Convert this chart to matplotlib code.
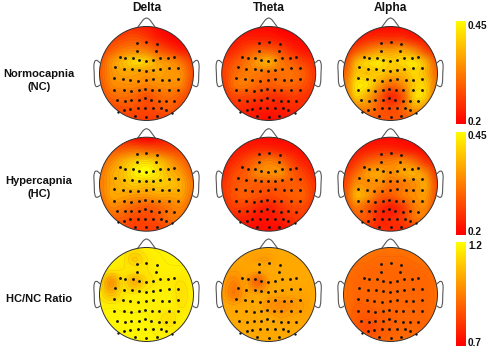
import numpy as np
import matplotlib
matplotlib.use("Agg")
import matplotlib.pyplot as plt
from matplotlib.patches import Circle, PathPatch
from matplotlib.path import Path

plt.rcParams['font.family'] = ['Liberation Sans', 'DejaVu Sans']

bands = ["Delta", "Theta", "Alpha"]
conditions = ["Normocapnia\n(NC)", "Hypercapnia\n(HC)", "HC/NC Ratio"]
cbar_ticks = [(0.2, 0.45, "0.2", "0.45"), (0.2, 0.45, "0.2", "0.45"), (0.7, 1.2, "0.7", "1.2")]

# electrode positions in head radii
elec_x = np.array([-.21,.00,.23, -.20,.21,
    -.57,-.45,-.29,-.16,-.01,.13,.28,.45,.58,
    -.66,-.48,-.30,-.17,-.02,.13,.28,.47,.66,
    -.69,-.51,-.35,-.19,-.02,.13,.32,.47,.67,
    -.69,-.48,-.32,-.17,-.03,.11,.27,.47,.66,
    -.63,-.46,-.32,-.16,-.03,.10,.27,.42,.58,
    -.47,-.36,-.18,-.03,.13,.31,.42,
    -.24,.00,.22])
elec_y = np.array([.64,.67,.63, .48,.48,
    .36,.32,.32,.29,.26,.28,.32,.33,.35,
    .14,.10,.09,.07,.06,.07,.09,.11,.11,
    -.10,-.12,-.14,-.15,-.13,-.11,-.13,-.13,-.12,
    -.35,-.36,-.37,-.35,-.34,-.35,-.35,-.35,-.35,
    -.57,-.58,-.56,-.57,-.53,-.56,-.59,-.58,-.59,
    -.78,-.75,-.73,-.73,-.74,-.74,-.78,
    -.90,-.92,-.90])
rim_x = [-.60, .55]
rim_y = [-.81, -.83]

# scalp values on a 9x9 grid, top row is the front of the head
delta_nc = [[.23,.23,.24,.24,.23,.21,.20,.20,.20],
            [.25,.26,.27,.28,.26,.23,.21,.20,.20],
            [.26,.29,.32,.33,.32,.29,.26,.23,.22],
            [.28,.34,.38,.41,.40,.36,.34,.31,.26],
            [.29,.34,.36,.36,.35,.36,.35,.34,.28],
            [.28,.33,.34,.34,.33,.34,.34,.33,.27],
            [.27,.30,.31,.30,.28,.30,.31,.29,.26],
            [.25,.27,.28,.28,.27,.28,.29,.27,.25],
            [.24,.25,.26,.26,.26,.26,.26,.25,.24]]
theta_nc = [[.21,.21,.21,.21,.21,.20,.20,.20,.20],
            [.22,.22,.23,.23,.23,.22,.21,.21,.21],
            [.23,.24,.27,.29,.29,.27,.24,.22,.22],
            [.25,.28,.31,.35,.37,.32,.29,.26,.24],
            [.26,.30,.32,.32,.31,.31,.31,.29,.25],
            [.25,.31,.32,.30,.29,.30,.30,.28,.25],
            [.24,.27,.27,.26,.25,.25,.26,.25,.24],
            [.23,.24,.24,.23,.23,.23,.24,.24,.23],
            [.22,.22,.22,.22,.21,.22,.22,.22,.22]]
alpha_nc = [[.21,.21,.21,.21,.21,.21,.21,.21,.21],
            [.22,.22,.24,.25,.25,.25,.23,.22,.22],
            [.23,.28,.32,.35,.35,.36,.33,.27,.23],
            [.27,.37,.41,.42,.40,.41,.42,.37,.28],
            [.30,.39,.39,.40,.38,.38,.41,.38,.30],
            [.32,.42,.42,.36,.31,.34,.40,.40,.31],
            [.30,.40,.37,.30,.24,.29,.41,.40,.29],
            [.26,.32,.33,.29,.27,.30,.36,.34,.26],
            [.24,.26,.28,.28,.28,.28,.29,.26,.24]]
delta_hc = [[.23,.23,.23,.21,.20,.21,.23,.23,.23],
            [.27,.28,.29,.30,.29,.28,.27,.26,.26],
            [.29,.33,.37,.40,.41,.39,.35,.31,.28],
            [.31,.36,.39,.43,.45,.42,.38,.35,.30],
            [.32,.36,.38,.40,.39,.40,.39,.37,.32],
            [.31,.36,.36,.35,.35,.36,.36,.36,.31],
            [.28,.33,.32,.30,.29,.30,.32,.33,.29],
            [.26,.29,.29,.27,.27,.28,.31,.31,.27],
            [.25,.26,.26,.26,.26,.26,.27,.27,.26]]
theta_hc = [[.21,.21,.21,.21,.21,.21,.21,.21,.21],
            [.21,.22,.23,.24,.24,.23,.22,.21,.21],
            [.22,.24,.27,.30,.32,.30,.26,.23,.22],
            [.23,.27,.29,.33,.34,.34,.29,.26,.23],
            [.25,.28,.29,.29,.29,.29,.29,.28,.25],
            [.25,.28,.29,.28,.27,.28,.29,.29,.25],
            [.24,.26,.26,.24,.23,.25,.27,.27,.24],
            [.22,.23,.23,.22,.22,.23,.25,.25,.23],
            [.21,.21,.21,.21,.21,.21,.22,.22,.21]]
alpha_hc = [[.21,.21,.21,.21,.21,.21,.21,.21,.21],
            [.21,.22,.23,.24,.24,.23,.22,.21,.21],
            [.22,.25,.29,.31,.32,.33,.30,.25,.22],
            [.25,.30,.35,.36,.34,.36,.37,.33,.25],
            [.27,.34,.34,.34,.31,.32,.34,.36,.27],
            [.28,.37,.35,.30,.29,.32,.34,.35,.27],
            [.26,.32,.29,.25,.23,.26,.32,.33,.26],
            [.23,.28,.28,.24,.24,.26,.31,.31,.25],
            [.21,.23,.24,.24,.24,.24,.25,.25,.23]]
delta_ratio = [[1.17,1.17,1.16,1.16,1.17,1.18,1.18,1.18,1.18],
               [1.17,1.17,1.16,1.10,1.15,1.17,1.18,1.18,1.18],
               [1.16,1.15,1.15,1.15,1.15,1.17,1.17,1.17,1.17],
               [1.14,1.00,1.13,1.05,1.13,1.16,1.16,1.15,1.17],
               [1.15,1.07,1.15,1.16,1.17,1.17,1.17,1.14,1.17],
               [1.17,1.17,1.17,1.17,1.17,1.17,1.17,1.15,1.17],
               [1.18,1.18,1.18,1.18,1.18,1.16,1.14,1.17,1.17],
               [1.18,1.18,1.18,1.18,1.18,1.17,1.16,1.17,1.18],
               [1.18,1.18,1.18,1.18,1.18,1.18,1.18,1.18,1.18]]
theta_ratio = [[1.03,1.03,1.03,1.03,1.03,1.03,1.03,1.03,1.03],
               [1.03,1.03,1.02,1.01,1.01,1.03,1.03,1.03,1.03],
               [1.02,1.01,1.02,1.02,1.03,1.03,1.03,1.03,1.03],
               [1.01,0.96,1.01,0.90,1.01,1.03,1.03,1.03,1.03],
               [1.01,0.94,1.01,1.02,1.02,1.02,1.02,1.02,1.03],
               [1.03,1.02,1.03,1.03,0.99,0.97,0.99,1.01,1.03],
               [1.03,1.03,1.03,1.03,1.03,1.01,1.02,1.02,1.03],
               [1.03,1.03,1.03,1.03,1.03,1.03,1.03,1.03,1.03],
               [1.03,1.03,1.03,1.03,1.03,1.03,1.03,1.03,1.03]]
alpha_ratio = [[.93,.93,.93,.93,.93,.93,.93,.93,.93],
               [.93,.92,.92,.91,.91,.91,.92,.93,.93],
               [.92,.91,.90,.90,.90,.90,.90,.91,.92],
               [.92,.90,.90,.90,.90,.90,.90,.90,.92],
               [.92,.90,.90,.90,.90,.90,.90,.90,.92],
               [.92,.89,.89,.90,.90,.90,.90,.90,.92],
               [.91,.88,.87,.88,.89,.90,.90,.90,.92],
               [.91,.87,.85,.87,.89,.90,.90,.90,.92],
               [.91,.89,.88,.89,.90,.91,.91,.91,.92]]

panels = [[delta_nc, theta_nc, alpha_nc],
          [delta_hc, theta_hc, alpha_hc],
          [delta_ratio, theta_ratio, alpha_ratio]]

W, H = 489, 349
fig = plt.figure(figsize=(W/100, H/100), dpi=100, facecolor='white')


def px_axes(x0, y0, x1, y1):
    return fig.add_axes([x0/W, 1-y1/H, (x1-x0)/W, (y1-y0)/H])


def smooth(values, factor=20):
    """Catmull-Rom smoothing of the scalp grid along both axes."""
    a = np.asarray(values, float)

    def along(arr):
        n = arr.shape[0]
        pos = np.linspace(0, n-1, (n-1)*factor+1)
        i = np.clip(np.floor(pos).astype(int), 0, n-2)
        t = (pos-i)[:, None]
        p0 = arr[np.clip(i-1, 0, n-1)]
        p1 = arr[i]
        p2 = arr[i+1]
        p3 = arr[np.clip(i+2, 0, n-1)]
        return 0.5*(2*p1+(p2-p0)*t+(2*p0-5*p1+4*p2-p3)*t**2+(3*p1-p0-3*p2+p3)*t**3)
    return along(along(a).T).T


centers_x = [146.5, 268.7, 390.5]
centers_y = [73.5, 184.2, 294.5]
R = 47.0
LIM = 1.3
cmap = plt.get_cmap('autumn')
edge = '#585858'

for r, (row, cy) in enumerate(zip(panels, centers_y)):
    vmin, vmax, lo, hi = cbar_ticks[r]
    for c, (vals, cx) in enumerate(zip(row, centers_x)):
        ax = px_axes(cx-LIM*R, cy-LIM*R, cx+LIM*R, cy+LIM*R)
        ax.set_xlim(-LIM, LIM); ax.set_ylim(-LIM, LIM)
        ax.axis('off')
        field = smooth(vals)
        gx = np.linspace(-1, 1, field.shape[1])
        gy = np.linspace(1, -1, field.shape[0])
        im = ax.imshow(field, extent=(-1, 1, -1, 1), origin='upper', cmap=cmap,
                       vmin=vmin, vmax=vmax, interpolation='bilinear',
                       aspect='auto', zorder=1)
        clip = Circle((0, 0), 1.0, transform=ax.transData)
        im.set_clip_path(clip)
        cs = ax.contour(gx, gy, field, levels=np.linspace(vmin, vmax, 22), colors='#803000',
                        linewidths=0.3, alpha=0.18, zorder=2)
        cs.set_clip_path(clip)
        ax.add_patch(Circle((0, 0), 1.0, fill=False, ec='#303030', lw=0.7, zorder=3))
        # nose
        nose = Path([(-.19, .98), (-.08, 1.13), (-.04, 1.18), (0, 1.18), (.04, 1.18), (.08, 1.13), (.19, .98)],
                    [Path.MOVETO, Path.LINETO, Path.CURVE3, Path.CURVE3, Path.CURVE3, Path.CURVE3, Path.LINETO])
        ax.add_patch(PathPatch(nose, fill=False, ec=edge, lw=0.8, zorder=2))
        # ears
        for s in (-1, 1):
            ear = Path([(s*.995, .22), (s*1.02, .28), (s*1.07, .28), (s*1.12, .28), (s*1.12, .14),
                        (s*1.11, -.02), (s*1.11, -.10),
                        (s*1.11, -.28), (s*1.06, -.28), (s*1.02, -.28), (s*.985, -.24)],
                       [Path.MOVETO, Path.CURVE3, Path.CURVE3, Path.CURVE3, Path.CURVE3,
                        Path.CURVE3, Path.CURVE3,
                        Path.CURVE3, Path.CURVE3, Path.CURVE3, Path.CURVE3])
            ax.add_patch(PathPatch(ear, fill=False, ec=edge, lw=0.8, zorder=2))
        ax.scatter(elec_x, elec_y, s=4.2, c='#151515', lw=0, zorder=4)
        ax.scatter(rim_x, rim_y, s=3.0, c='#151515', lw=0, zorder=4)

# column titles
for name, cx in zip(bands, centers_x):
    fig.text(cx/W, 1-8/H, name, ha='center', va='center', fontsize=8.6, fontweight='bold', color='#111111')

# row labels
for name, y in zip(conditions, [80.5, 187.5, 299]):
    fig.text(39/W, 1-y/H, name, ha='center', va='center', fontsize=8.0, fontweight='bold',
             color='#111111', linespacing=1.35)

# colour bars
bars = [(21, 124), (132, 235), (242, 346)]
gradient = np.linspace(1, 0, 128).reshape(-1, 1)
tick_y = [(122, 26), (232, 136), (343, 246)]
for (y0, y1), (vmin, vmax, lo, hi), (ylo, yhi) in zip(bars, cbar_ticks, tick_y):
    cax = px_axes(456, y0, 466, y1)
    cax.imshow(gradient, cmap=cmap, aspect='auto', vmin=0, vmax=1)
    cax.axis('off')
    fig.text(468/W, 1-ylo/H, lo, ha='left', va='center', fontsize=7.2, fontweight='bold', color='#111111')
    fig.text(468/W, 1-yhi/H, hi, ha='left', va='center', fontsize=7.2, fontweight='bold', color='#111111')

fig.savefig('out.png', dpi=100)
